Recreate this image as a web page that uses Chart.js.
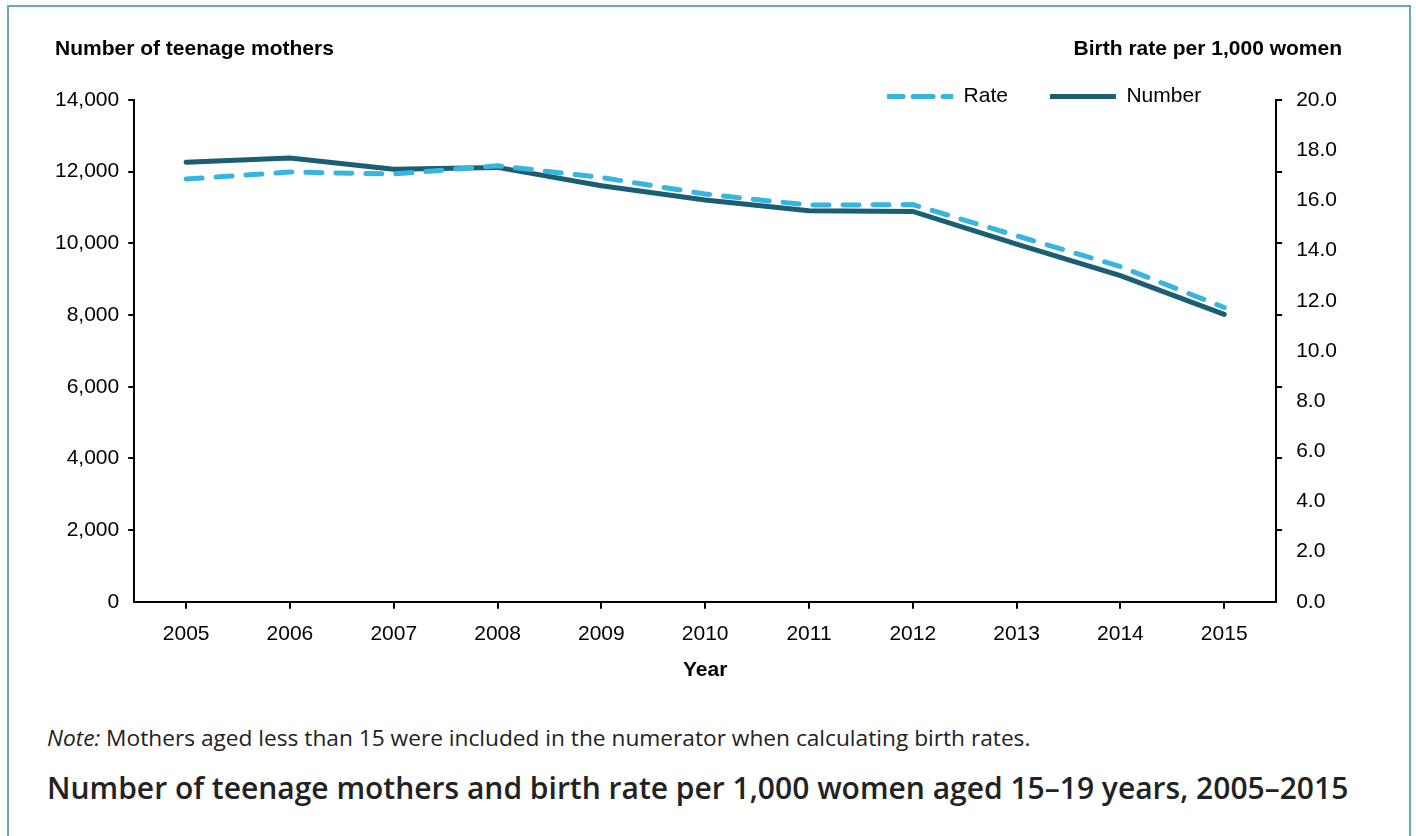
<!DOCTYPE html>
<html>
<head>
<meta charset="utf-8">
<script src="https://cdn.jsdelivr.net/npm/chart.js@4.4.1/dist/chart.umd.min.js"></script>
<style>
  body { margin: 0; background: #fff; width: 1416px; height: 836px; overflow: hidden; position: relative; font-family: "Liberation Sans", Arial, sans-serif; }
  .frame { position: absolute; left: 7px; top: 5px; width: 1400px; height: 900px; border: 2px solid #6aa8ba; }
  #chartWrap { position: absolute; left: 0; top: 0; width: 1416px; height: 700px; }
  .axis-title { position: absolute; top: 36px; font-weight: bold; font-size: 21px; line-height: 24px; color: #000; }
  .note { position: absolute; left: 47px; top: 723px; font-family: "Open Sans"; font-size: 22.7px; line-height: 30px; color: #222; }
  .caption { position: absolute; left: 47px; top: 767px; font-family: "Open Sans"; font-weight: 600; font-size: 30px; line-height: 42px; color: #222; }
</style>
</head>
<body>
<div class="frame"></div>
<div id="chartWrap"><canvas id="chart"></canvas></div>
<div class="axis-title" style="left:55px">Number of teenage mothers</div>
<div class="axis-title" style="right:74px">Birth rate per 1,000 women</div>
<div class="note"><i>Note:</i> Mothers aged less than 15 were included in the numerator when calculating birth rates.</div>
<div class="caption">Number of teenage mothers and birth rate per 1,000 women aged 15–19 years, 2005–2015</div>

<script>
const years = ['2005', '2006', '2007', '2008', '2009', '2010', '2011', '2012', '2013', '2014', '2015'];
const rateValues = [16.85, 17.13, 17.05, 17.38, 16.91, 16.25, 15.81, 15.83, 14.59, 13.36, 11.73];
const numberValues = [12260, 12380, 12070, 12120, 11610, 11210, 10910, 10890, 9980, 9100, 8020];

const numberAxis = { min: 0, max: 14000, step: 2000 };
const rateAxis = { min: 0, max: 20, step: 2 };

const tickFont = { family: 'Liberation Sans', size: 21 };

// legend sits over the top edge of the plot, Chart.js wants it above
const legendNudge = {
    id: 'legendNudge',
    afterLayout(chart) {
        const lg = chart.legend;
        lg.top += 17; lg.bottom += 17;
        lg.left -= 33; lg.right -= 33;
    }
};

const ctx = document.getElementById('chart').getContext('2d');

new Chart(ctx, {
    type: 'line',
    data: {
        labels: years,
        datasets: [
            {
                label: 'Rate',
                data: rateValues,
                yAxisID: 'yRate',
                borderColor: '#36b5df',
                backgroundColor: '#36b5df',
                borderWidth: 5,
                borderDash: [16, 14],
                borderCapStyle: 'round',
                pointRadius: 0,
                tension: 0,
                fill: false
            },
            {
                label: 'Number',
                data: numberValues,
                yAxisID: 'yNum',
                borderColor: '#1b5d72',
                backgroundColor: '#1b5d72',
                borderWidth: 5,
                borderCapStyle: 'round',
                pointRadius: 0,
                tension: 0,
                fill: false
            }
        ]
    },
    options: {
        responsive: true,
        maintainAspectRatio: false,
        animation: false,
        layout: { padding: { top: 27, left: 46, right: 73, bottom: 19 } },
        plugins: {
            tooltip: { enabled: false },
            legend: {
                display: true,
                position: 'top',
                align: 'end',
                fullSize: false,
                labels: {
                    boxWidth: 66,
                    boxHeight: 0,
                    padding: 42,
                    color: '#000',
                    font: { family: 'Liberation Sans', size: 21 }
                }
            }
        },
        scales: {
            x: {
                type: 'category',
                offset: true,
                border: { color: '#000', width: 2 },
                grid: { drawOnChartArea: false, drawTicks: true, tickLength: 7, color: '#000', lineWidth: 2, offset: false },
                ticks: { color: '#000', font: tickFont, padding: 13, maxRotation: 0, autoSkip: false },
                title: {
                    display: true,
                    text: 'Year',
                    color: '#000',
                    font: { family: 'Liberation Sans', size: 21, weight: 'bold', lineHeight: 1 },
                    padding: { top: 0, bottom: 0 }
                }
            },
            yNum: {
                position: 'left',
                min: numberAxis.min,
                max: numberAxis.max,
                border: { color: '#000', width: 2 },
                grid: {
                    drawOnChartArea: false,
                    tickLength: 6,
                    lineWidth: 2,
                    color: c => (c.tick && c.tick.value === 0) ? 'rgba(0,0,0,0)' : '#000'
                },
                ticks: {
                    stepSize: numberAxis.step,
                    color: '#000',
                    font: tickFont,
                    padding: 9,
                    callback: v => v.toLocaleString('en-US')
                }
            },
            // tick marks on the right edge follow the left-hand grid
            yMarks: {
                position: 'right',
                weight: 0,
                min: numberAxis.min,
                max: numberAxis.max,
                border: { color: '#000', width: 2 },
                grid: {
                    drawOnChartArea: false,
                    tickLength: 6,
                    lineWidth: 2,
                    color: c => (c.tick && c.tick.value === 0) ? 'rgba(0,0,0,0)' : '#000'
                },
                ticks: { display: false, stepSize: numberAxis.step }
            },
            yRate: {
                position: 'right',
                weight: 10,
                min: rateAxis.min,
                max: rateAxis.max,
                border: { display: false },
                grid: { display: false, drawOnChartArea: false },
                ticks: {
                    stepSize: rateAxis.step,
                    color: '#000',
                    font: tickFont,
                    padding: 6,
                    callback: v => v.toFixed(1)
                }
            }
        }
    },
    plugins: [legendNudge]
});
</script>
</body>
</html>
